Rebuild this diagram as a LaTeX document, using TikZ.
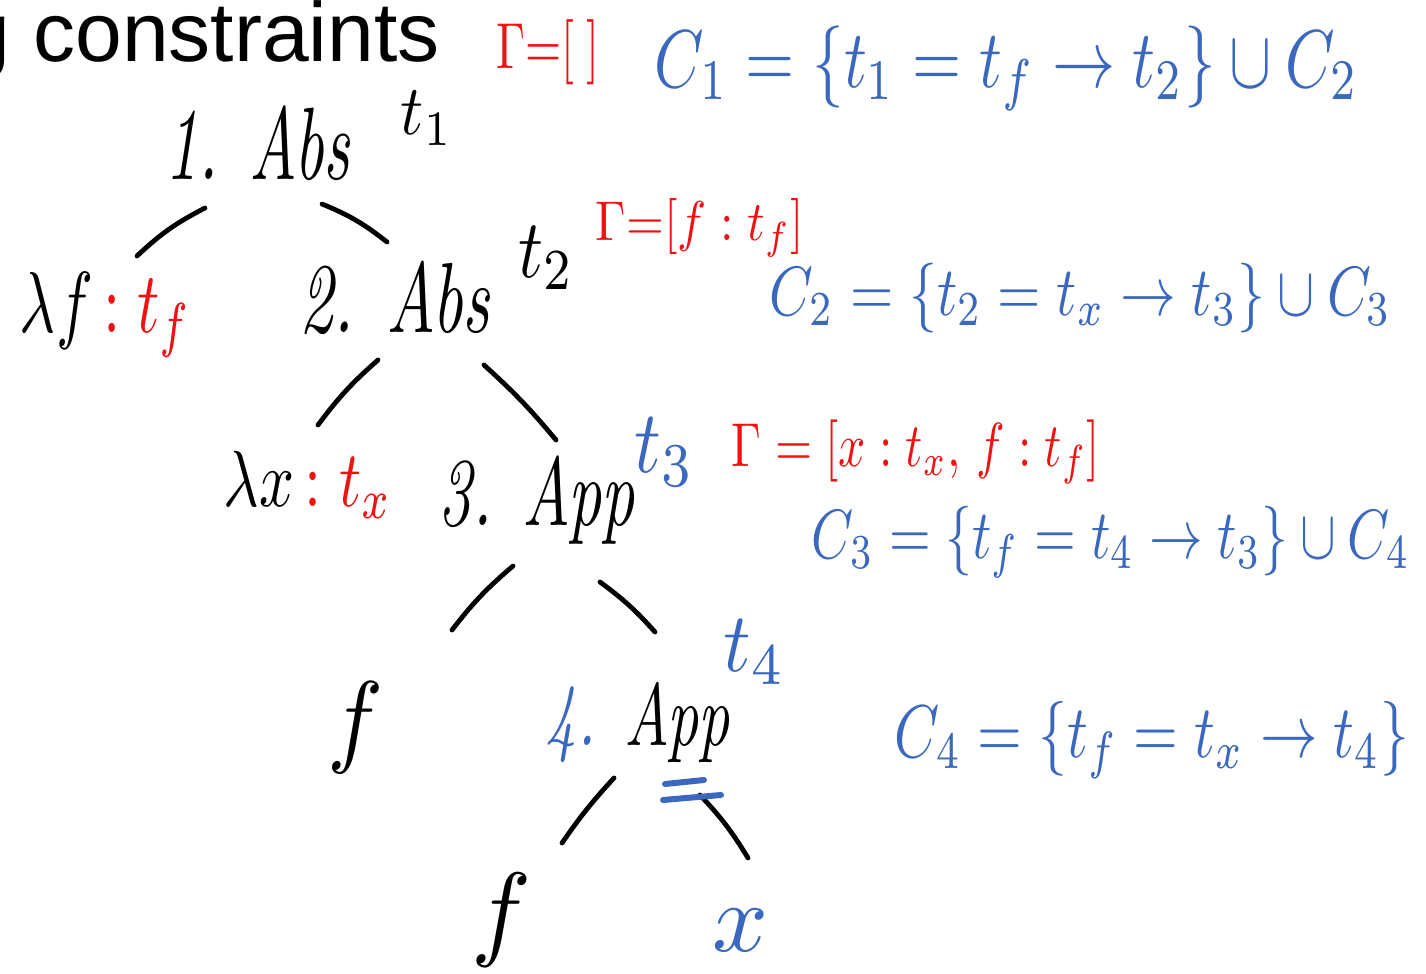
\documentclass[tikz,border=0pt]{standalone}
\usepackage{fontspec}
\setsansfont{Liberation Sans}
\definecolor{hblue}{RGB}{58,104,190}
\definecolor{hred}{RGB}{238,18,18}
\newcommand{\fitw}[3]{\scalebox{1}[#2]{\resizebox{#1}{!}{#3}}}
\begin{document}
\begin{tikzpicture}[x=0.5pt,y=-0.5pt,
  stroke/.style={line width=2.4pt, line cap=round},
  bstroke/.style={line width=3pt, line cap=round, draw=hblue},
  hw/.style={inner sep=0pt, anchor=center}]
\useasboundingbox (0,0) rectangle (1426,974);
% title (cut off at left)
\node[anchor=base west, inner sep=0pt, font=\sffamily\fontsize{42}{42}\selectfont] (title) at (-37,62) {g constraints};
% tree labels
\node[hw] (abs1) at (258,143) {\fitw{92pt}{1.6}{\itshape 1. Abs}};
\node[hw] (t1) at (427,118) {\fitw{26pt}{1.1}{$t_1$}};
\node[hw,text=hred] (gam1) at (548,52) {\fitw{52pt}{1.4}{$\Gamma{=}[\;]$}};
\node[hw,text=hblue] (c1) at (1007,68) {\fitw{352pt}{1.3}{$C_1 = \{t_1 = t_f \to t_2\} \cup C_2$}};
\node[hw] (lamf) at (106,315) {\fitw{86pt}{1.4}{$\lambda f\,{\color{hred}:t_f}$}};
\node[hw] (abs2) at (395,298) {\fitw{95pt}{1.5}{\itshape 2. Abs}};
\node[hw] (t2) at (547,258) {\fitw{28pt}{1.2}{$t_2$}};
\node[hw,text=hred] (gam2) at (700,228) {\fitw{104pt}{1.15}{$\Gamma{=}[f:t_f]$}};
\node[hw,text=hblue] (c2) at (1081,298) {\fitw{311pt}{1.25}{$C_2 = \{t_2 = t_x \to t_3\} \cup C_3$}};
\node[hw] (lamx) at (308,485) {\fitw{84pt}{1.3}{$\lambda x\,{\color{hred}:t_x}$}};
\node[hw] (app3) at (537,500) {\fitw{98pt}{1.5}{\itshape 3. App}};
\node[hw,text=hblue] (t3) at (665,452) {\fitw{30pt}{1.2}{$t_3$}};
\node[hw,text=hred] (gam3) at (916,452) {\fitw{184pt}{1.3}{$\Gamma = [x:t_x,\, f:t_f]$}};
\node[hw,text=hblue] (c3) at (1111,542) {\fitw{299pt}{1.3}{$C_3 = \{t_f = t_4 \to t_3\} \cup C_4$}};
\node[hw] (f1) at (356,728) {\fitw{28pt}{1.1}{$f$}};
\node[hw] (app4) at (638,722) {\fitw{92pt}{1.45}{\itshape{\color{hblue}4.} App}};
\node[hw,text=hblue] (t4) at (755,652) {\fitw{31pt}{1.1}{$t_4$}};
\node[hw,text=hblue] (c4) at (1152,740) {\fitw{257pt}{1.3}{$C_4 = \{t_f = t_x \to t_4\}$}};
\node[hw] (f2) at (502,920) {\fitw{30pt}{1.05}{$f$}};
\node[hw,text=hblue] (x) at (740,930) {\fitw{28pt}{1}{$x$}};
% stroke end points
\coordinate (s1a) at (205,208); \coordinate (s1b) at (137,256);
\coordinate (s2a) at (322,204); \coordinate (s2b) at (387,242);
\coordinate (s3a) at (378,360); \coordinate (s3b) at (318,425);
\coordinate (s4a) at (484,365); \coordinate (s4b) at (556,440);
\coordinate (s5a) at (513,566); \coordinate (s5b) at (452,630);
\coordinate (s6a) at (600,582); \coordinate (s6b) at (655,632);
\coordinate (s7a) at (614,778); \coordinate (s7b) at (562,843);
\coordinate (s8a) at (700,795); \coordinate (s8b) at (748,858);
\coordinate (u1a) at (665,784); \coordinate (u1b) at (704,780);
\coordinate (u2a) at (663,800); \coordinate (u2b) at (721,795);
% tree strokes
\draw[stroke] (s1a) to[bend right=8] (s1b);
\draw[stroke] (s2a) to[bend left=8] (s2b);
\draw[stroke] (s3a) to[bend right=6] (s3b);
\draw[stroke] (s4a) to[bend left=4] (s4b);
\draw[stroke] (s5a) to[bend right=6] (s5b);
\draw[stroke] (s6a) to[bend left=6] (s6b);
\draw[stroke] (s7a) to[bend right=4] (s7b);
\draw[stroke] (s8a) to[bend left=6] (s8b);
% double underline
\draw[bstroke] (u1a) -- (u1b);
\draw[bstroke] (u2a) -- (u2b);
\end{tikzpicture}
\end{document}
